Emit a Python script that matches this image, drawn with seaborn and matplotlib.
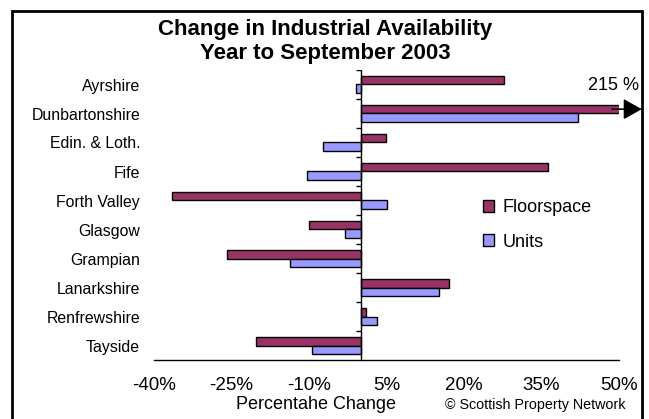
import pandas as pd
import matplotlib.pyplot as plt
import seaborn as sns
from matplotlib.patches import Rectangle
from matplotlib.ticker import FuncFormatter

# data (percent change, year to Sep 2003)
regions = ["Ayrshire", "Dunbartonshire", "Edin. & Loth.", "Fife", "Forth Valley",
           "Glasgow", "Grampian", "Lanarkshire", "Renfrewshire", "Tayside"]
floorspace = [27.7, 215.0, 4.9, 36.3, -36.6, -10.0, -25.8, 17.1, 1.1, -20.2]
units = [-1.0, 42.0, -7.2, -10.3, 5.1, -3.1, -13.7, 15.2, 3.1, -9.4]
series = ["Floorspace", "Units"]
colors = ["#993366", "#9999FF"]
x_ticks = [-40, -25, -10, 5, 20, 35, 50]

df = pd.DataFrame({
    "region": regions * 2,
    "change": floorspace + units,
    "series": [series[0]] * len(regions) + [series[1]] * len(regions),
})

sns.set_style("white")
plt.rcParams["font.family"] = ["Liberation Sans", "DejaVu Sans"]
plt.rcParams["text.color"] = "black"
plt.rcParams["xtick.color"] = "black"
plt.rcParams["ytick.color"] = "black"

fig = plt.figure(figsize=(6.49, 4.19), dpi=100)
ax = fig.add_axes([154 / 649, 1 - 360 / 419, 465 / 649, 290 / 419])

sns.barplot(data=df, x="change", y="region", hue="series", order=regions,
            hue_order=series, palette=colors, orient="h", width=0.6,
            edgecolor="black", linewidth=1, saturation=1, ax=ax)

ax.set_xlim(-40, 50)
ax.set_ylim(len(regions) - 0.5, -0.5)
ax.set_xticks(x_ticks)
ax.xaxis.set_major_formatter(FuncFormatter(lambda v, p: f"{v:.0f}%"))
ax.tick_params(axis="x", direction="out", length=5, width=1, color="black",
               pad=7, labelsize=13.5, labelcolor="black")
ax.tick_params(axis="y", length=0, pad=10, labelsize=11.4, labelcolor="black")
ax.set_ylabel("")
ax.set_xlabel("")

for s in ["top", "right", "left"]:
    ax.spines[s].set_visible(False)
ax.spines["bottom"].set_color("black")
ax.spines["bottom"].set_linewidth(1)

# category axis crosses at zero
ax.axvline(0, color="black", lw=1)
ax.hlines([k - 0.5 for k in range(len(regions))], -1, 0, color="black", lw=1)

# off-scale marker for Dunbartonshire floorspace
dun = regions.index("Dunbartonshire")
ax.annotate("", xy=(1.049, dun - 0.15), xytext=(0.985, dun - 0.15),
            xycoords=("axes fraction", "data"),
            arrowprops=dict(arrowstyle="-|>,head_length=0.8,head_width=0.45",
                            mutation_scale=14, color="black", lw=1.2,
                            shrinkA=0, shrinkB=0),
            annotation_clip=False)
ax.text(0.989, dun - 0.95, f"{floorspace[dun]:.0f} %", transform=ax.get_yaxis_transform(),
        ha="center", va="center", fontsize=13)

leg = ax.legend(loc="upper left", bbox_to_anchor=(0.672, 0.61), frameon=False,
                fontsize=13, handlelength=0.65, handleheight=0.65,
                handletextpad=0.45, labelspacing=0.95)

fig.text(325 / 649, 1 - 30 / 419, "Change in Industrial Availability", ha="center",
         va="center", fontsize=16, fontweight="bold")
fig.text(325 / 649, 1 - 53 / 419, "Year to September 2003", ha="center", va="center",
         fontsize=16, fontweight="bold")
fig.text(316 / 649, 1 - 404 / 419, "Percentahe Change", ha="center", va="center",
         fontsize=13)
fig.text(535 / 649, 1 - 405 / 419, "© Scottish Property Network", ha="center",
         va="center", fontsize=10.3)

fig.patches.append(Rectangle((12 / 649, -0.02), 630 / 649, 1 - 11 / 419 + 0.02,
                             transform=fig.transFigure, fill=False,
                             edgecolor="black", lw=2))

fig.savefig("out.png", dpi=100)
